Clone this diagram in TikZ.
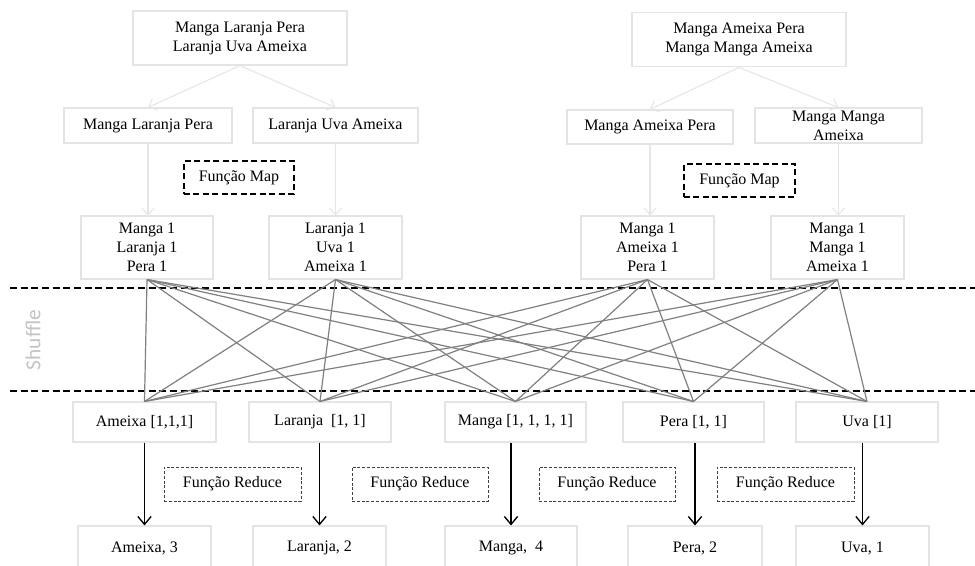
\documentclass[tikz,border=0pt]{standalone}
\usepackage{fontspec}
\setmainfont{Liberation Serif}
\newfontfamily\labelfont{Carlito}
\usetikzlibrary{arrows.meta}
\definecolor{boxline}{HTML}{E4E4E4}
\definecolor{splitline}{HTML}{E6E6E6}
\definecolor{shuffleline}{HTML}{808080}
\definecolor{shuffletext}{HTML}{C4C4C4}
\tikzset{
  wordbox/.style={draw=boxline, line width=0.8pt, align=center, inner sep=0pt,
    font=\fontsize{12}{14.25}\selectfont},
  mapnote/.style={draw=black, line width=1.1pt, dash pattern=on 4.5pt off 2.6pt,
    inner sep=0pt, font=\fontsize{12}{14.25}\selectfont},
  reducenote/.style={draw=black!75, line width=0.55pt, dash pattern=on 2.2pt off 1.4pt,
    inner sep=0pt, font=\fontsize{12}{14.25}\selectfont},
  split/.style={draw=splitline, line width=0.8pt,
    -{Straight Barb[length=5pt, width=9pt, line width=0.8pt]}},
  shuffle/.style={draw=shuffleline, line width=0.9pt},
  reduce/.style={draw=black, line width=1pt,
    -{Straight Barb[length=6pt, width=10pt, line width=1pt]}},
  phase/.style={draw=black, line width=1.1pt, dash pattern=on 5.2pt off 2.8pt},
  resulttext/.style={font=\fontsize{12}{14.25}\selectfont},
}
\begin{document}
\begin{tikzpicture}[x=0.75pt, y=-0.75pt]
\clip (0,0) rectangle (975,565);
\useasboundingbox (0,0) rectangle (975,565);
\fill[white] (0,0) rectangle (975,565);

% input documents
\node[wordbox, minimum width=160.5pt, minimum height=40.5pt] (t1) at (240,38)
  {Manga Laranja Pera\\Laranja Uva Ameixa};
\node[wordbox, minimum width=160.5pt, minimum height=41pt] (t2) at (739,39.5)
  {Manga Ameixa Pera\\Manga Manga Ameixa};

% splits
\node[wordbox, minimum width=126pt, minimum height=26.25pt] (s1) at (148,125.5) {Manga Laranja Pera};
\node[wordbox, minimum width=123.75pt, minimum height=26.25pt] (s2) at (335.5,125.5) {Laranja Uva Ameixa};
\node[wordbox, minimum width=124.5pt, minimum height=25.5pt] (s3) at (650,127) {Manga Ameixa Pera};
\node[wordbox, minimum width=125.25pt, minimum height=26.25pt] (s4) at (838.5,125.5) {Manga Manga\\Ameixa};

% map outputs
\node[wordbox, minimum width=99pt, minimum height=47.25pt] (m1) at (147,247.5) {Manga 1\\Laranja 1\\Pera 1};
\node[wordbox, minimum width=99.75pt, minimum height=47.25pt] (m2) at (335.5,247.5) {Laranja 1\\Uva 1\\Ameixa 1};
\node[wordbox, minimum width=99.75pt, minimum height=47.25pt] (m3) at (647.5,247.5) {Manga 1\\Ameixa 1\\Pera 1};
\node[wordbox, minimum width=99.75pt, minimum height=47.25pt] (m4) at (837.5,247.5) {Manga 1\\Manga 1\\Ameixa 1};

% grouped keys
\node[wordbox, minimum width=107.25pt, minimum height=30pt] (r1) at (144.5,422) {Ameixa [1,1,1]};
\node[wordbox, minimum width=106.5pt, minimum height=30pt] (r2) at (320,422) {Laranja\ \ [1, 1]};
\node[wordbox, minimum width=105.75pt, minimum height=30pt] (r3) at (515.5,422) {Manga [1, 1, 1, 1]};
\node[wordbox, minimum width=105.75pt, minimum height=30pt] (r4) at (693.5,422) {Pera [1, 1]};
\node[wordbox, minimum width=106.5pt, minimum height=30pt] (r5) at (867,422) {Uva [1]};

% results (boxes run past the lower edge)
\node[wordbox, minimum width=99.75pt, minimum height=37.5pt] (o1) at (144.5,551) {};
\node[wordbox, minimum width=99.75pt, minimum height=37.5pt] (o2) at (319.5,551) {};
\node[wordbox, minimum width=99pt, minimum height=37.5pt] (o3) at (511,551) {};
\node[wordbox, minimum width=100.5pt, minimum height=37.5pt] (o4) at (695,551) {};
\node[wordbox, minimum width=99.75pt, minimum height=37.5pt] (o5) at (862.5,551) {};
\node[resulttext] (ot1) at (144.5,548) {Ameixa, 3};
\node[resulttext] (ot2) at (319.5,548) {Laranja, 2};
\node[resulttext] (ot3) at (511,548) {Manga,\ \ 4};
\node[resulttext] (ot4) at (695,548) {Pera, 2};
\node[resulttext] (ot5) at (862.5,548) {Uva, 1};

% function notes
\node[mapnote, minimum width=82.5pt, minimum height=24.75pt] (fm1) at (239,177.5) {Função Map};
\node[mapnote, minimum width=83.25pt, minimum height=24.75pt] (fm2) at (739.5,180.5) {Função Map};
\node[reducenote, minimum width=102.75pt, minimum height=25.5pt] (fr1) at (232.5,484) {Função Reduce};
\node[reducenote, minimum width=102pt, minimum height=25.5pt] (fr2) at (420,484) {Função Reduce};
\node[reducenote, minimum width=102pt, minimum height=25.5pt] (fr3) at (607,484) {Função Reduce};
\node[reducenote, minimum width=102.75pt, minimum height=25.5pt] (fr4) at (785.5,484) {Função Reduce};

% splitting arrows
\draw[split] (t1.south) -- (s1.north);
\draw[split] (t1.south) -- (s2.north);
\draw[split] (t2.south) -- (s3.north);
\draw[split] (t2.south) -- (s4.north);
\draw[split] (s1.south) -- (s1.south |- m1.north);
\draw[split] (s2.south) -- (s2.south |- m2.north);
\draw[split] (s3.south) -- (s3.south |- m3.north);
\draw[split] (s4.south) -- (s4.south |- m4.north);

% shuffle phase boundaries
\coordinate (u0) at (10,288);
\coordinate (u1) at (975,288);
\coordinate (l0) at (10,391);
\coordinate (l1) at (975,391);
\draw[phase] (u0) -- (u1);
\draw[phase] (l0) -- (l1);
\node[rotate=90, text=shuffletext, font=\labelfont\fontsize{16}{19}\selectfont] (sh) at (33,340) {Shuffle};

% shuffle connections
\foreach \m in {m1,m2,m3,m4}
  \foreach \r in {r1,r2,r3,r4,r5}
    \draw[shuffle] (\m.south) -- (\r.north);

% reduce arrows
\foreach \i in {1,...,5}
  \draw[reduce] (o\i.north |- r\i.south) -- (o\i.north);
\end{tikzpicture}
\end{document}
